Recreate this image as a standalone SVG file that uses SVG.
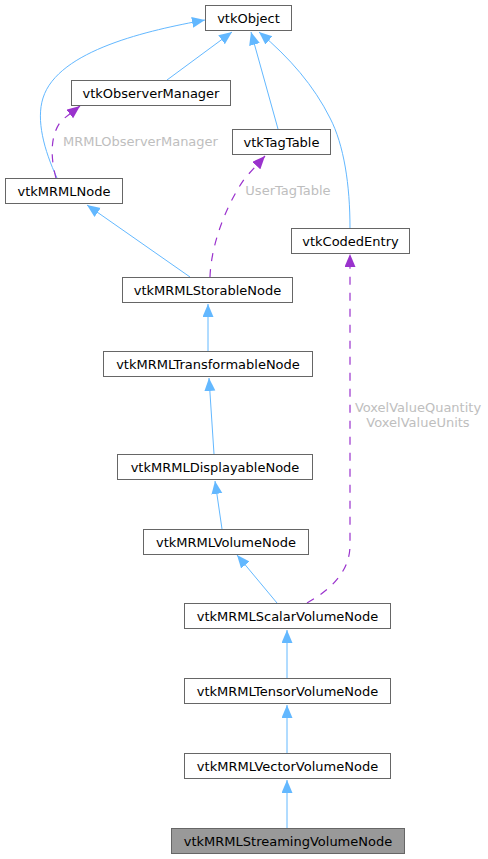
<svg xmlns="http://www.w3.org/2000/svg" width="488" height="859" viewBox="0 0 488 859">
<style>
.n rect{fill:#ffffff;stroke:#666666;stroke-width:1}
.n text{font-family:"DejaVu Sans",sans-serif;font-size:13px;fill:#000000;text-anchor:middle}
.e{fill:none;stroke:#63b8ff;stroke-width:1}
.d{fill:none;stroke:#9a32cd;stroke-width:1.2;stroke-dasharray:8,8}
.lbl{font-family:"DejaVu Sans",sans-serif;font-size:13px;fill:#bebebe;text-anchor:middle}
</style>
<defs>
<marker id="ab" markerWidth="14" markerHeight="12" refX="13" refY="5.5" orient="auto" markerUnits="userSpaceOnUse"><path d="M0,0 L13,5.5 L0,11 Z" fill="#63b8ff"/></marker>
<marker id="ap" markerWidth="14" markerHeight="12" refX="13" refY="5.5" orient="auto" markerUnits="userSpaceOnUse"><path d="M0,0 L13,5.5 L0,11 Z" fill="#9a32cd"/></marker>
</defs>
<rect width="488" height="859" fill="#ffffff"/>
<g id="connectors">
<path class="e" d="M167,80 L232,32" marker-end="url(#ab)"/>
<path class="e" d="M57,178 C44,150 36,120 43,98 C58,50 150,30 205,20" marker-end="url(#ab)"/>
<path class="e" d="M278,129 L251,32" marker-end="url(#ab)"/>
<path class="e" d="M350,228 C350,185 344,145 330,118 C314,86 290,58 259,32" marker-end="url(#ab)"/>
<path class="e" d="M190,277 L87,205" marker-end="url(#ab)"/>
<path class="e" d="M208,351 L208,304" marker-end="url(#ab)"/>
<path class="e" d="M214,454 L209,378" marker-end="url(#ab)"/>
<path class="e" d="M222,529 L215,481" marker-end="url(#ab)"/>
<path class="e" d="M277,603 L237,555" marker-end="url(#ab)"/>
<path class="e" d="M287,678 L287,630" marker-end="url(#ab)"/>
<path class="e" d="M287,753 L287,705" marker-end="url(#ab)"/>
<path class="e" d="M287,828 L287,780" marker-end="url(#ab)"/>
<path class="d" d="M56,178 C51,160 49,135 62,120 L80,106" marker-end="url(#ap)"/>
<path class="d" d="M210,277 C211,245 226,205 245,178 L265,156" marker-end="url(#ap)"/>
<path class="d" d="M307,603 C330,590 350,572 350,545 L350,254" marker-end="url(#ap)"/>
<text class="lbl" x="140.5" y="145.5">MRMLObserverManager</text>
<text class="lbl" x="288" y="195">UserTagTable</text>
<text class="lbl" x="418" y="411.5">VoxelValueQuantity</text>
<text class="lbl" x="418" y="426.5">VoxelValueUnits</text>
</g>
<g id="vtkObject" class="n"><rect x="205.5" y="5.5" width="86" height="25"/><text x="248.5" y="22.5">vtkObject</text></g>
<g id="vtkObserverManager" class="n"><rect x="71.5" y="80.5" width="159" height="25"/><text x="151" y="97.5">vtkObserverManager</text></g>
<g id="vtkTagTable" class="n"><rect x="232.5" y="129.5" width="98" height="25"/><text x="281.5" y="146.5">vtkTagTable</text></g>
<g id="vtkMRMLNode" class="n"><rect x="5.5" y="178.5" width="117" height="25"/><text x="64" y="195.5">vtkMRMLNode</text></g>
<g id="vtkCodedEntry" class="n"><rect x="291.5" y="228.5" width="118" height="25"/><text x="350.5" y="245.5">vtkCodedEntry</text></g>
<g id="vtkMRMLStorableNode" class="n"><rect x="122.5" y="277.5" width="170" height="25"/><text x="207.5" y="294.5">vtkMRMLStorableNode</text></g>
<g id="vtkMRMLTransformableNode" class="n"><rect x="103.5" y="351.5" width="209" height="25"/><text x="208" y="368.5">vtkMRMLTransformableNode</text></g>
<g id="vtkMRMLDisplayableNode" class="n"><rect x="117.5" y="454.5" width="195" height="25"/><text x="215" y="471.5">vtkMRMLDisplayableNode</text></g>
<g id="vtkMRMLVolumeNode" class="n"><rect x="143.5" y="529.5" width="165" height="25"/><text x="226" y="546.5">vtkMRMLVolumeNode</text></g>
<g id="vtkMRMLScalarVolumeNode" class="n"><rect x="184.5" y="603.5" width="206" height="25"/><text x="287.5" y="620.5">vtkMRMLScalarVolumeNode</text></g>
<g id="vtkMRMLTensorVolumeNode" class="n"><rect x="184.5" y="678.5" width="206" height="25"/><text x="287.5" y="695.5">vtkMRMLTensorVolumeNode</text></g>
<g id="vtkMRMLVectorVolumeNode" class="n"><rect x="184.5" y="753.5" width="206" height="25"/><text x="287.5" y="770.5">vtkMRMLVectorVolumeNode</text></g>
<g id="vtkMRMLStreamingVolumeNode" class="n"><rect x="171.5" y="828.5" width="233" height="25" style="fill:#999999"/><text x="288" y="845.5">vtkMRMLStreamingVolumeNode</text></g>
</svg>
